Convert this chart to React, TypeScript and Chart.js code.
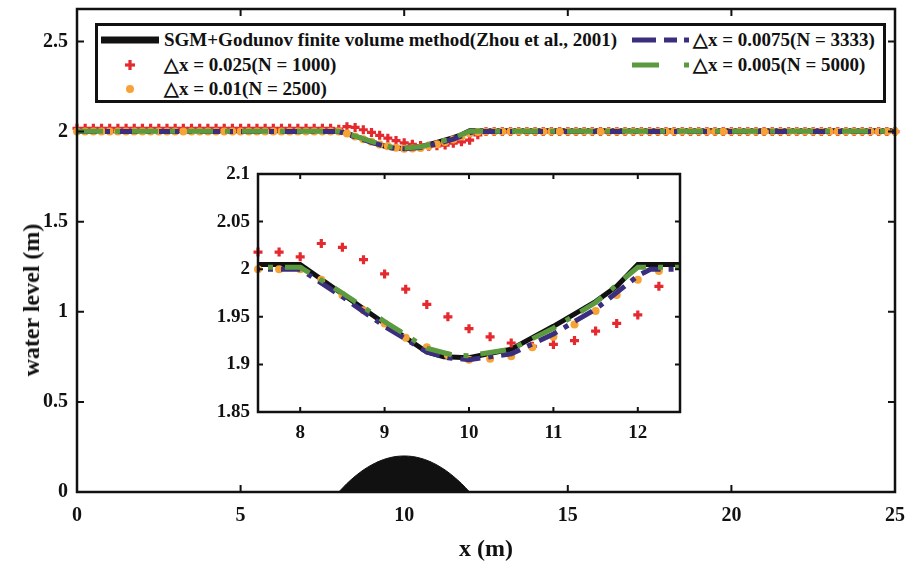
import React, { useEffect, useRef } from "react";
import { Chart, registerables } from "chart.js";

Chart.register(...registerables);

// ---------- data ----------
const seriesLabels = [
  "SGM+Godunov finite volume method(Zhou et al., 2001)",
  "\u25B3x = 0.025(N = 1000)",
  "\u25B3x = 0.01(N = 2500)",
  "\u25B3x = 0.0075(N = 3333)",
  "\u25B3x = 0.005(N = 5000)",
];
const xTitle = "x (m)";
const yTitle = "water level (m)";

const markerX = [
  0, 0.25, 0.5, 0.75, 1, 1.25, 1.5, 1.75, 2, 2.25,
  2.5, 2.75, 3, 3.25, 3.5, 3.75, 4, 4.25, 4.5, 4.75,
  5, 5.25, 5.5, 5.75, 6, 6.25, 6.5, 6.75, 7, 7.25,
  7.5, 7.75, 8, 8.25, 8.5, 8.75, 9, 9.25, 9.5, 9.75,
  10, 10.25, 10.5, 10.75, 11, 11.25, 11.5, 11.75, 12, 12.25,
  12.5, 12.75, 13, 13.25, 13.5, 13.75, 14, 14.25, 14.5, 14.75,
  15, 15.25, 15.5, 15.75, 16, 16.25, 16.5, 16.75, 17, 17.25,
  17.5, 17.75, 18, 18.25, 18.5, 18.75, 19, 19.25, 19.5, 19.75,
  20, 20.25, 20.5, 20.75, 21, 21.25, 21.5, 21.75, 22, 22.25,
  22.5, 22.75, 23, 23.25, 23.5, 23.75, 24, 24.25, 24.5, 24.75,
  25,
];

// dx = 0.025 (N = 1000), red markers
const redY = [
  2.018, 2.018, 2.018, 2.018, 2.018, 2.018, 2.018, 2.018, 2.018, 2.018,
  2.018, 2.018, 2.018, 2.018, 2.018, 2.018, 2.018, 2.018, 2.018, 2.018,
  2.018, 2.018, 2.018, 2.018, 2.018, 2.018, 2.018, 2.018, 2.018, 2.018,
  2.018, 2.018, 2.013, 2.027, 2.023, 2.010, 1.995, 1.979, 1.963, 1.950,
  1.9375, 1.929, 1.9225, 1.919, 1.921, 1.925, 1.935, 1.943, 1.952, 1.982,
  2.0, 2.0, 2.0, 2.0, 2.0, 2.0, 2.0, 2.0, 2.0, 2.0,
  2.0, 2.0, 2.0, 2.0, 2.0, 2.0, 2.0, 2.0, 2.0, 2.0,
  2.0, 2.0, 2.0, 2.0, 2.0, 2.0, 2.0, 2.0, 2.0, 2.0,
  2.0, 2.0, 2.0, 2.0, 2.0, 2.0, 2.0, 2.0, 2.0, 2.0,
  2.0, 2.0, 2.0, 2.0, 2.0, 2.0, 2.0, 2.0, 2.0, 2.0,
  2.0,
];

// dx = 0.01 (N = 2500), orange markers
const orangeY = [
  2.0, 2.0, 2.0, 2.0, 2.0, 2.0, 2.0, 2.0, 2.0, 2.0,
  2.0, 2.0, 2.0, 2.0, 2.0, 2.0, 2.0, 2.0, 2.0, 2.0,
  2.0, 2.0, 2.0, 2.0, 2.0, 2.0, 2.0, 2.0, 2.0, 2.0,
  2.0, 2.0, 2.0, 1.989, 1.973, 1.957, 1.943, 1.928, 1.918, 1.9095,
  1.905, 1.906, 1.9085, 1.918, 1.929, 1.942, 1.956, 1.973, 1.989, 1.998,
  2.0, 2.0, 2.0, 2.0, 2.0, 2.0, 2.0, 2.0, 2.0, 2.0,
  2.0, 2.0, 2.0, 2.0, 2.0, 2.0, 2.0, 2.0, 2.0, 2.0,
  2.0, 2.0, 2.0, 2.0, 2.0, 2.0, 2.0, 2.0, 2.0, 2.0,
  2.0, 2.0, 2.0, 2.0, 2.0, 2.0, 2.0, 2.0, 2.0, 2.0,
  2.0, 2.0, 2.0, 2.0, 2.0, 2.0, 2.0, 2.0, 2.0, 2.0,
  2.0,
];

// reference solution (black)
const refX = [0, 8, 8.5, 9, 9.5, 9.7, 10, 10.5, 11, 11.5, 11.75, 12, 25];
const refY = [2.005, 2.005, 1.974, 1.943, 1.913, 1.908, 1.907, 1.916, 1.94, 1.966, 1.982, 2.005, 2.005];

// dx = 0.0075 (N = 3333), blue dash-dot
const blueX = [0, 8, 8.5, 9, 9.5, 9.75, 10, 10.5, 11, 11.5, 12, 12.15, 25];
const blueY = [2.0, 2.0, 1.971, 1.94, 1.913, 1.907, 1.905, 1.911, 1.932, 1.958, 1.993, 2.0, 2.0];

// dx = 0.005 (N = 5000), green dash-dot
const greenX = [0, 8, 8.5, 9, 9.5, 9.8, 10, 10.5, 11, 11.5, 12, 25];
const greenY = [2.002, 2.002, 1.975, 1.945, 1.917, 1.91, 1.909, 1.916, 1.938, 1.965, 2.002, 2.002];

// bed bump
const bumpX = [8, 8.25, 8.5, 8.75, 9, 9.25, 9.5, 9.75, 10, 10.25, 10.5, 10.75, 11, 11.25, 11.5, 11.75, 12];
const bumpY = [0, 0.047, 0.0875, 0.122, 0.15, 0.172, 0.1875, 0.197, 0.2, 0.197, 0.1875, 0.172, 0.15, 0.122, 0.0875, 0.047, 0];

const mainXTicks = [0, 5, 10, 15, 20, 25];
const mainYTicks = [0, 0.5, 1, 1.5, 2, 2.5];
const insetXTicks = [8, 9, 10, 11, 12];
const insetYTicks = [1.85, 1.9, 1.95, 2, 2.05, 2.1];

// ---------- styles ----------
const C = {
  ink: "#111111",
  red: "#e52a2f",
  orange: "#f6a236",
  blue: "#3b2e7e",
  green: "#5b9a3f",
};
const FONT = "'Liberation Serif', 'Times New Roman', serif";
const blueDash = [20, 8, 5, 8];
const greenDash = [26, 12, 5, 12];

const pts = (xs: number[], ys: number[]) => xs.map((x, i) => ({ x, y: ys[i] }));

const framePlugin = {
  id: "frame",
  beforeDraw(chart: any) {
    const { ctx, chartArea: a } = chart;
    ctx.save();
    ctx.fillStyle = "#ffffff";
    ctx.fillRect(a.left, a.top, a.right - a.left, a.bottom - a.top);
    ctx.restore();
  },
  afterDatasetsDraw(chart: any, _args: any, opts: any) {
    const { ctx, chartArea: a, scales } = chart;
    const len = opts.tickLen;
    ctx.save();
    ctx.strokeStyle = C.ink;
    ctx.lineWidth = opts.tickWidth;
    ctx.beginPath();
    for (const t of scales.x.ticks) {
      const px = scales.x.getPixelForValue(t.value);
      if (px <= a.left + 1 || px >= a.right - 1) continue;
      ctx.moveTo(px, a.bottom);
      ctx.lineTo(px, a.bottom - len);
      ctx.moveTo(px, a.top);
      ctx.lineTo(px, a.top + len);
    }
    for (const t of scales.y.ticks) {
      const py = scales.y.getPixelForValue(t.value);
      if (py <= a.top + 1 || py >= a.bottom - 1) continue;
      ctx.moveTo(a.left, py);
      ctx.lineTo(a.left + len, py);
      ctx.moveTo(a.right, py);
      ctx.lineTo(a.right - len, py);
    }
    ctx.stroke();
    ctx.lineWidth = opts.lineWidth;
    ctx.strokeRect(a.left, a.top, a.right - a.left, a.bottom - a.top);
    ctx.restore();
  },
};

// dataset index 0 is painted last (on top)
function makeDatasets(markerClip: any, lineClip: number, withBump: boolean) {
  const ds: any[] = [
    {
      label: seriesLabels[4],
      data: pts(greenX, greenY),
      showLine: true,
      borderColor: C.green,
      borderWidth: 5,
      borderDash: greenDash,
      pointRadius: 0,
      clip: lineClip,
    },
    {
      label: seriesLabels[3],
      data: pts(blueX, blueY),
      showLine: true,
      borderColor: C.blue,
      borderWidth: 5,
      borderDash: blueDash,
      pointRadius: 0,
      clip: lineClip,
    },
    {
      label: seriesLabels[2],
      data: pts(markerX, orangeY),
      showLine: false,
      pointStyle: "circle",
      pointRadius: 4,
      pointBorderWidth: 0,
      pointBorderColor: C.orange,
      pointBackgroundColor: C.orange,
      clip: markerClip,
    },
    {
      label: seriesLabels[1],
      data: pts(markerX, redY),
      showLine: false,
      pointStyle: "cross",
      pointRadius: 4.5,
      pointBorderWidth: 3.2,
      pointBorderColor: C.red,
      pointBackgroundColor: C.red,
      clip: markerClip,
    },
    {
      label: seriesLabels[0],
      data: pts(refX, refY),
      showLine: true,
      borderColor: C.ink,
      borderWidth: 5,
      pointRadius: 0,
      clip: lineClip,
    },
  ];
  if (withBump) {
    ds.push({
      label: "bed",
      data: pts(bumpX, bumpY),
      showLine: true,
      borderColor: C.ink,
      borderWidth: 1,
      backgroundColor: C.ink,
      fill: "origin",
      tension: 0.3,
      pointRadius: 0,
      clip: 0,
    });
  }
  return ds;
}

function axis(min: number, max: number, ticks: number[], size: number, pad: number, thick: number, title?: any) {
  return {
    type: "linear",
    min,
    max,
    afterBuildTicks: (s: any) => {
      s.ticks = ticks.map((v) => ({ value: v }));
    },
    afterFit: (s: any) => {
      if (s.isHorizontal()) s.height = thick;
      else s.width = thick;
      s.paddingTop = 0;
      s.paddingBottom = 0;
      s.paddingLeft = 0;
      s.paddingRight = 0;
    },
    ticks: {
      callback: (v: any) => String(v),
      font: { family: FONT, weight: "bold", size },
      color: C.ink,
      padding: pad,
      autoSkip: false,
      maxRotation: 0,
    },
    grid: { display: false, drawTicks: false },
    border: { display: false },
    title: title || { display: false },
  };
}

function mainConfig(): any {
  return {
    type: "scatter",
    data: { datasets: makeDatasets({ left: 6, right: 6, top: 6, bottom: 6 }, 3, true) },
    options: {
      animation: false,
      responsive: false,
      devicePixelRatio: 1,
      layout: { padding: { top: 9, right: 16, left: 0, bottom: 0 } },
      plugins: {
        legend: { display: false },
        tooltip: { enabled: false },
        frame: { tickLen: 7, tickWidth: 2, lineWidth: 2.5 },
      },
      scales: {
        x: axis(0, 25, mainXTicks, 20, 12, 74, {
          display: true,
          text: xTitle,
          color: C.ink,
          font: { family: FONT, weight: "bold", size: 24 },
          padding: { top: 0, bottom: 2 },
        }),
        y: axis(0, 2.68, mainYTicks, 20, 9, 77),
      },
    },
    plugins: [framePlugin],
  };
}

function insetConfig(): any {
  return {
    type: "scatter",
    data: { datasets: makeDatasets({ left: 6, right: -6, top: 6, bottom: 6 }, 0, false) },
    options: {
      animation: false,
      responsive: false,
      devicePixelRatio: 1,
      layout: { padding: { top: 14, right: 10, left: 0, bottom: 0 } },
      plugins: {
        legend: { display: false },
        tooltip: { enabled: false },
        frame: { tickLen: 5, tickWidth: 2, lineWidth: 2.5 },
      },
      scales: {
        x: axis(7.5, 12.5, insetXTicks, 19, 10, 38),
        y: axis(1.85, 2.1, insetYTicks, 19, 8, 68),
      },
    },
    plugins: [framePlugin],
  };
}

// ---------- legend (HTML overlay) ----------
const rowY = [40, 65, 89];

function Sample({ kind }: { kind: number }) {
  if (kind === 0) {
    return (
      <svg width={60} height={12} style={{ position: "absolute", left: 100, top: rowY[0] - 6 }}>
        <rect x={1} y={2.5} width={58} height={7} fill={C.ink} />
      </svg>
    );
  }
  if (kind === 1) {
    return (
      <svg width={14} height={14} style={{ position: "absolute", left: 123, top: rowY[1] - 7 }}>
        <rect x={5.4} y={2} width={3.2} height={10} fill={C.red} />
        <rect x={2} y={5.4} width={10} height={3.2} fill={C.red} />
      </svg>
    );
  }
  if (kind === 2) {
    return (
      <svg width={14} height={14} style={{ position: "absolute", left: 123, top: rowY[2] - 7 }}>
        <circle cx={7} cy={7} r={4} fill={C.orange} />
      </svg>
    );
  }
  if (kind === 3) {
    return (
      <svg width={60} height={12} style={{ position: "absolute", left: 630, top: rowY[0] - 6 }}>
        <rect x={2} y={3.5} width={24} height={5} fill={C.blue} />
        <rect x={34} y={3.5} width={13} height={5} fill={C.blue} />
        <rect x={54} y={3.5} width={5} height={5} fill={C.blue} />
      </svg>
    );
  }
  return (
    <svg width={60} height={12} style={{ position: "absolute", left: 630, top: rowY[1] - 6 }}>
      <rect x={2} y={3.5} width={27} height={5} fill={C.green} />
      <rect x={54} y={3.5} width={5} height={5} fill={C.green} />
    </svg>
  );
}

function Legend() {
  const items = [
    { kind: 0, x: 164, y: rowY[0] },
    { kind: 1, x: 164, y: rowY[1] },
    { kind: 2, x: 164, y: rowY[2] },
    { kind: 3, x: 693, y: rowY[0] },
    { kind: 4, x: 693, y: rowY[1] },
  ];
  return (
    <>
      <div
        style={{
          position: "absolute",
          left: 95,
          top: 23,
          width: 791,
          height: 80,
          boxSizing: "border-box",
          border: "3px solid " + C.ink,
          background: "#fff",
        }}
      />
      {items.map((it) => (
        <React.Fragment key={it.kind}>
          <Sample kind={it.kind} />
          <div
            style={{
              position: "absolute",
              left: it.x,
              top: it.y,
              transform: "translateY(-50%)",
              fontFamily: FONT,
              fontWeight: "bold",
              fontSize: 19,
              lineHeight: "22px",
              color: C.ink,
              whiteSpace: "nowrap",
            }}
          >
            {seriesLabels[it.kind]}
          </div>
        </React.Fragment>
      ))}
    </>
  );
}

export default function App() {
  const mainRef = useRef<HTMLCanvasElement>(null);
  const insetRef = useRef<HTMLCanvasElement>(null);
  useEffect(() => {
    const main = new Chart(mainRef.current as HTMLCanvasElement, mainConfig());
    const inset = new Chart(insetRef.current as HTMLCanvasElement, insetConfig());
    return () => {
      main.destroy();
      inset.destroy();
    };
  }, []);
  return (
    <div style={{ position: "absolute", left: 0, top: 0, width: 911, height: 566, background: "#fff", overflow: "hidden" }}>
      <canvas ref={mainRef} width={911} height={566} style={{ position: "absolute", left: 0, top: 0 }} />
      <canvas ref={insetRef} width={500} height={290} style={{ position: "absolute", left: 190, top: 160 }} />
      <Legend />
      <div
        style={{
          position: "absolute",
          left: 31,
          top: 300,
          transform: "translate(-50%, -50%) rotate(-90deg)",
          fontFamily: FONT,
          fontWeight: "bold",
          fontSize: 24,
          lineHeight: "28px",
          color: C.ink,
          whiteSpace: "nowrap",
        }}
      >
        {yTitle}
      </div>
    </div>
  );
}
